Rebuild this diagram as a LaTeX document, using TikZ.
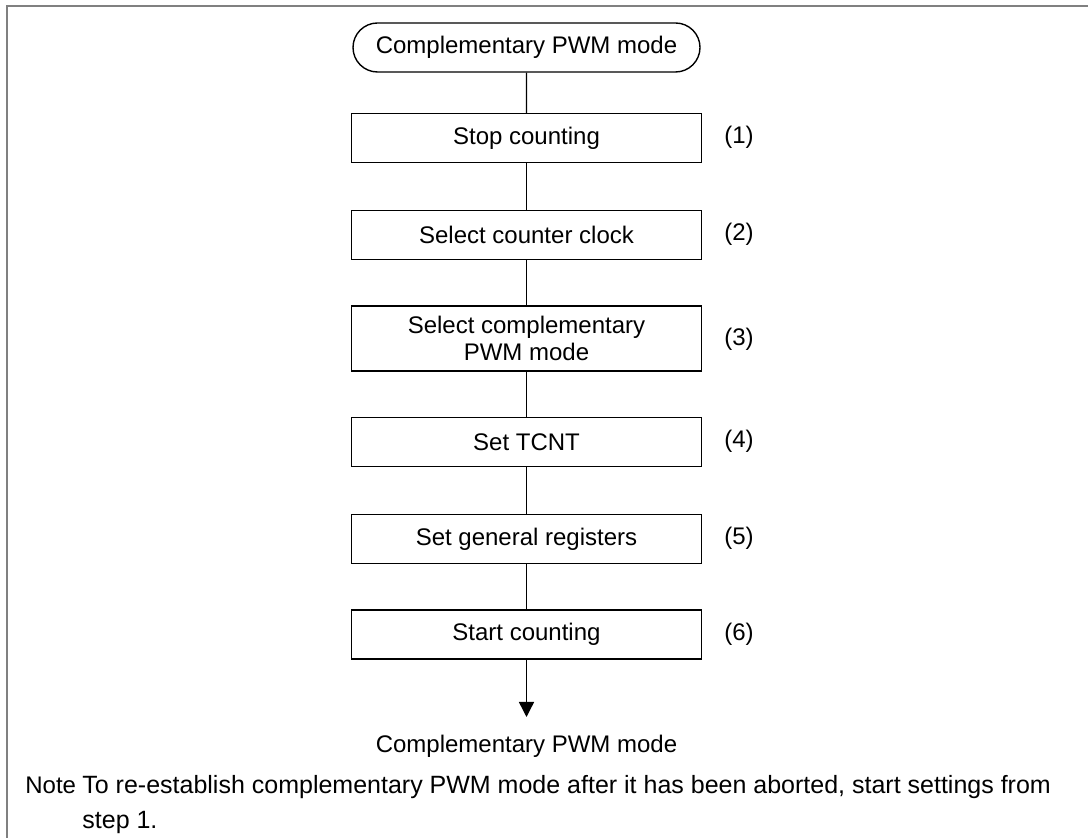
\documentclass[tikz,border=0pt]{standalone}
\usepackage{fontspec}
\setmainfont{Liberation Sans}
\usetikzlibrary{arrows.meta,shapes.misc}
\definecolor{Ink}{HTML}{000000}
\definecolor{Frame}{HTML}{808080}

\begin{document}
\begin{tikzpicture}[x=0.5pt,y=-0.5pt,
  every node/.style={font=\fontsize{12}{13.5}\selectfont,text=Ink},
  term/.style={rounded rectangle,draw=Ink,line width=0.7pt,minimum width=173.5pt,minimum height=24.5pt,inner sep=0pt},
  stepbox/.style={rectangle,draw=Ink,line width=0.7pt,minimum width=175pt,minimum height=24.5pt,inner sep=0pt,align=center},
  steplabel/.style={anchor=west,inner sep=0pt},
  flow/.style={draw=Ink,line width=0.7pt},
  flowarrow/.style={flow,-{Triangle[width=7.5pt,length=7.5pt]}}]
\useasboundingbox (0,0) rectangle (1088,838);
\draw[Frame,line width=1pt] (6.5,838) -- (6.5,6.5) -- (1088,6.5);
\node[term] (start) at (526.5,47.5) {Complementary PWM mode};
\node[stepbox] (s1) at (526.5,138) {Stop counting};
\node[stepbox] (s2) at (526.5,235) {Select counter clock};
\node[stepbox,minimum height=32.5pt] (s3) at (526.5,338.5) {Select complementary\\PWM mode};
\node[stepbox] (s4) at (526.5,442) {Set TCNT};
\node[stepbox] (s5) at (526.5,539) {Set general registers};
\node[stepbox] (s6) at (526.5,634.5) {Start counting};
\node[steplabel] (n1) at (724,137) {(1)};
\node[steplabel] (n2) at (724,234) {(2)};
\node[steplabel] (n3) at (724,339) {(3)};
\node[steplabel] (n4) at (724,441) {(4)};
\node[steplabel] (n5) at (724,538) {(5)};
\node[steplabel] (n6) at (724,634) {(6)};
\coordinate (tip) at (526.5,717);
\node[anchor=base,inner sep=0pt] (result) at (526.5,753) {Complementary PWM mode};
\draw[flow] (start) -- (s1);
\draw[flow] (s1) -- (s2);
\draw[flow] (s2) -- (s3);
\draw[flow] (s3) -- (s4);
\draw[flow] (s4) -- (s5);
\draw[flow] (s5) -- (s6);
\draw[flowarrow] (s6) -- (tip);
% note below the flow
\node[anchor=base west,inner sep=0pt] (notehead) at (25,794) {Note};
\node[anchor=north west,inner sep=0pt,align=left,font=\fontsize{12.5}{14}\selectfont] (notebody) at (82,775.3)
  {To re-establish complementary PWM mode after it has been aborted, start settings from\\[3.5pt]step 1.};
\end{tikzpicture}
\end{document}
